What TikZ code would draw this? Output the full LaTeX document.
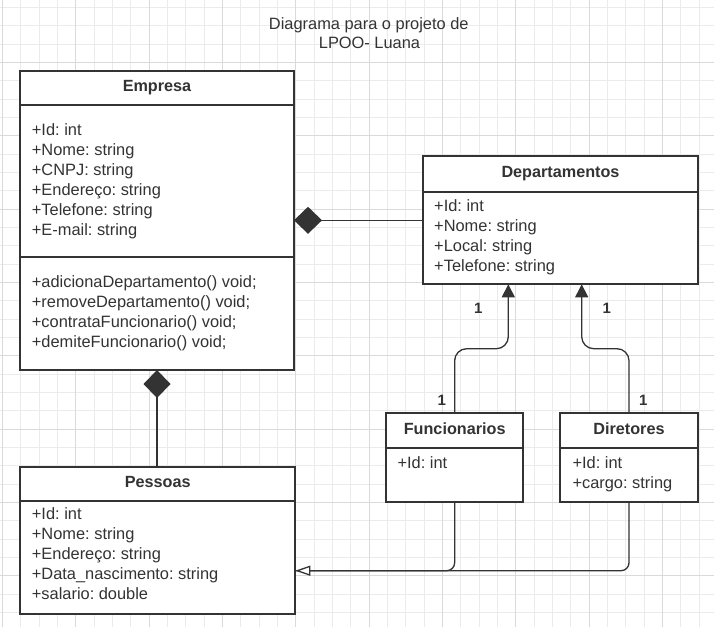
\documentclass[tikz,border=0pt]{standalone}
\usepackage{fontspec}
\setmainfont{Liberation Sans}
\usetikzlibrary{arrows.meta}
\definecolor{ink}{HTML}{333333}
\definecolor{gridlo}{HTML}{EBEBEB}
\definecolor{gridhi}{HTML}{DADADA}
\frenchspacing
\begin{document}
\begin{tikzpicture}[x=1pt,y=-1pt,
    box/.style={draw=ink,line width=2pt,fill=white,inner sep=0pt,outer sep=0pt,anchor=north west},
    hdr/.style={box,font=\bfseries\fontsize{16.2}{20}\selectfont,text=ink,text height=12pt,text depth=5pt},
    txt/.style={font=\fontsize{16.4}{20}\selectfont,text=ink,anchor=base west,inner sep=0pt},
    link/.style={draw=ink,line width=1.3pt},
    one/.style={font=\bfseries\fontsize{15}{18}\selectfont,text=ink,inner sep=0pt}]
    \useasboundingbox[fill=white](0,0)rectangle(714,627);
    % grid
    \foreach \k in {0,...,38}\draw[gridlo,line width=0.8pt]({2.4+18.333*\k},0)--++(0,627);
    \foreach \k in {0,...,33}\draw[gridlo,line width=0.8pt](0,{7.3+18.333*\k})--++(714,0);
    \foreach \k in {0,...,9}\draw[gridhi,line width=0.8pt]({2.4+73.333*\k},0)--++(0,627);
    \foreach \k in {1,...,8}\draw[gridhi,line width=0.8pt](0,{-11+73.333*\k})--++(714,0);
    % title
    \node[txt,anchor=base](tit1)at(368.8,29){Diagrama para o projeto de};
    \node[txt,anchor=base](tit2)at(369.5,48.3){LPOO- Luana};
    % Empresa
    \node[hdr,minimum width=274pt,minimum height=34pt](empH)at(20,71){Empresa};
    \node[box,minimum width=274pt,minimum height=152pt](empA)at(empH.south west){};
    \node[box,minimum width=274pt,minimum height=113pt](empM)at(empA.south west){};
    \foreach \t[count=\i] in {+Id: int,+Nome: string,+CNPJ: string,+Endereço: string,+Telefone: string,+E-mail: string}
        \node[txt](empT\i)at(31.7,{135.7+20*(\i-1)}){\t};
    \foreach \t[count=\i] in {+adicionaDepartamento() void;,+removeDepartamento() void;,+contrataFuncionario() void;,+demiteFuncionario() void;}
        \node[txt](empF\i)at(31.7,{287.7+20*(\i-1)}){\t};
    % Departamentos
    \node[hdr,minimum width=275.6pt,minimum height=35.7pt](depH)at(422.7,156){Departamentos};
    \node[box,minimum width=275.6pt,minimum height=92.6pt](depA)at(depH.south west){};
    \foreach \t[count=\i] in {+Id: int,+Nome: string,+Local: string,+Telefone: string}
        \node[txt](depT\i)at(434,{211.7+20*(\i-1)}){\t};
    % Funcionarios, Diretores
    \node[hdr,minimum width=137.3pt,minimum height=34.4pt](funH)at(386,413.3){Funcionarios};
    \node[box,minimum width=137.3pt,minimum height=54pt](funA)at(funH.south west){};
    \node[txt](funT1)at(397.3,468.3){+Id: int};
    \node[hdr,minimum width=137.4pt,minimum height=34.4pt](dirH)at(560.3,413.3){Diretores};
    \node[box,minimum width=137.4pt,minimum height=54pt](dirA)at(dirH.south west){};
    \node[txt](dirT1)at(572.3,468.3){+Id: int};
    \node[txt](dirT2)at(572.3,488.3){+cargo: string};
    % Pessoas
    \node[hdr,minimum width=275.3pt,minimum height=34.3pt](pesH)at(20,466.7){Pessoas};
    \node[box,minimum width=275.3pt,minimum height=113pt](pesA)at(pesH.south west){};
    \foreach \t[count=\i] in {+Id: int,+Nome: string,+Endereço: string,+Data\_nascimento: string,+salario: double}
        \node[txt](pesT\i)at(31.7,{519.5+20*(\i-1)}){\t};
    % connectors
    \coordinate(dep2)at([yshift=17.7pt]depA.west);
    \draw[link,{Diamond[length=28pt,width=27pt]}-](dep2-|empA.east)--(dep2);
    \draw[link,{Diamond[length=28pt,width=27pt]}-](empM.south)--(empM.south|-pesH.north);
    \draw[link,rounded corners=12pt,-{Triangle[length=13pt,width=13pt]}](funH.north)--++(0,-64.6)-|([xshift=-52.2pt]depA.south);
    \draw[link,rounded corners=12pt,-{Triangle[length=13pt,width=13pt]}](dirH.north)--++(0,-64.6)-|([xshift=21.2pt]depA.south);
    \coordinate(gen)at([yshift=-13.2pt]pesA.east);
    \draw[link,rounded corners=8pt](dirA.south)|-(gen);
    \draw[link,rounded corners=8pt,-{Triangle[open,length=15pt,width=10pt,fill=white]}](funA.south)|-(gen);
    \node[one](m1)at(478.3,308.3){1};
    \node[one](m2)at(606.7,308.3){1};
    \node[one](m3)at(441.7,400){1};
    \node[one](m4)at(643.3,400){1};
\end{tikzpicture}
\end{document}
